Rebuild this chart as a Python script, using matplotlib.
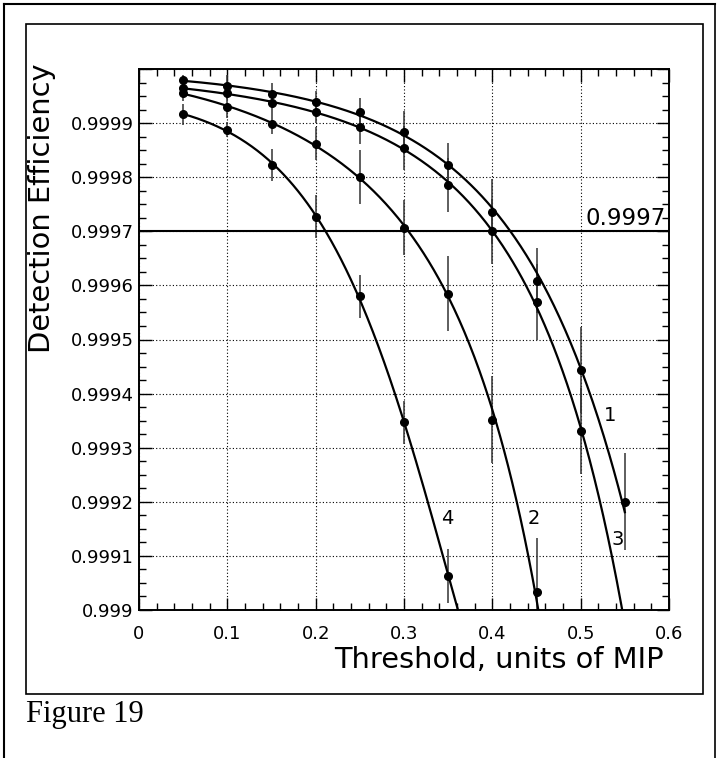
import numpy as np
import matplotlib
matplotlib.use("Agg")
import matplotlib.pyplot as plt
from matplotlib.ticker import FixedLocator, FuncFormatter
from matplotlib.patches import Rectangle
from matplotlib.lines import Line2D

# ---------------- data ----------------
x_thr = [0.05, 0.10, 0.15, 0.20, 0.25, 0.30, 0.35, 0.40, 0.45, 0.50, 0.55]

eff1 = [0.999979, 0.999969, 0.999954, 0.999939, 0.999920, 0.999883,
        0.999823, 0.999736, 0.999609, 0.999444, 0.999200]
err1 = [0.00001, 0.00002, 0.00002, 0.00002, 0.000027, 0.00004,
        0.00004, 0.00006, 0.00006, 0.00008, 0.00009]

eff3 = [0.999964, 0.999955, 0.999938, 0.999920, 0.999892, 0.999854,
        0.999785, 0.999700, 0.999570, 0.999331]
err3 = [0.00001, 0.00001, 0.00002, 0.00002, 0.00003, 0.00004,
        0.00005, 0.00006, 0.00007, 0.00008]

eff2 = [0.999955, 0.999930, 0.999899, 0.999862, 0.999800, 0.999707,
        0.999585, 0.999352, 0.999033]
err2 = [0.000015, 0.00002, 0.00002, 0.00003, 0.00005, 0.00005,
        0.00007, 0.00008, 0.0001]

eff4 = [0.999916, 0.999888, 0.999823, 0.999727, 0.999580, 0.999347, 0.999063]
err4 = [0.00002, 0.000014, 0.00003, 0.00004, 0.00004, 0.00004, 0.00005]

curve_names = ["1", "3", "2", "4"]
curve_label_pos = {"1": (0.533, 0.99936), "3": (0.542, 0.99913),
                   "2": (0.447, 0.99917), "4": (0.349, 0.99917)}
ref_level = 0.9997
ref_text = "0.9997"

x_ticks = [0.0, 0.1, 0.2, 0.3, 0.4, 0.5, 0.6]
y_ticks = [0.999, 0.9991, 0.9992, 0.9993, 0.9994, 0.9995, 0.9996,
           0.9997, 0.9998, 0.9999, 1.0]

xlabel = "Threshold, units of MIP"
ylabel = "Detection Efficiency"
caption = "Figure 19"

# ---------------- figure ----------------
W, H = 718, 758
fig = plt.figure(figsize=(W / 100, H / 100), dpi=100)
fig.patch.set_facecolor("white")

# outer and inner frames
fig.add_artist(Line2D([4 / W, 4 / W], [0, 1 - 4 / H], transform=fig.transFigure,
                      color="black", lw=1.5))
fig.add_artist(Line2D([4 / W, 715 / W], [1 - 4 / H, 1 - 4 / H],
                      transform=fig.transFigure, color="black", lw=1.5))
fig.add_artist(Line2D([715 / W, 715 / W], [0, 1 - 4 / H], transform=fig.transFigure,
                      color="black", lw=1.2))
fig.add_artist(Rectangle((26 / W, 1 - 694 / H), (703 - 26) / W, (694 - 24) / H,
                         transform=fig.transFigure, fill=False,
                         edgecolor="black", lw=1.2))

ax = fig.add_axes([139 / W, 1 - 610 / H, 530 / W, 541 / H])
ax.set_xlim(0.0, 0.6)
ax.set_ylim(0.999, 1.0)


def fit_curve(x, y, xmax):
    x = np.asarray(x)
    y = np.asarray(y)
    c = np.polyfit(x, np.log(1.0 - y), 3)
    xs = np.linspace(x[0], xmax, 400)
    return xs, 1.0 - np.exp(np.polyval(c, xs))


series = [
    (eff1, err1, 0.0),
    (eff3, err3, 0.06),
    (eff2, err2, 0.06),
    (eff4, err4, 0.06),
]
for eff, err, ext in series:
    xs_pts = x_thr[:len(eff)]
    xs, ys = fit_curve(xs_pts, eff, xs_pts[-1] + ext)
    ax.plot(xs, ys, color="black", lw=1.6, zorder=3)
    ax.errorbar(xs_pts, eff, yerr=err, fmt="none", ecolor="#333333",
                elinewidth=1.1, capsize=0, zorder=2)
    ax.plot(xs_pts, eff, "o", color="black", ms=5.5, zorder=4)

for name in curve_names:
    px, py = curve_label_pos[name]
    ax.text(px, py, name, fontsize=14, ha="center", va="center", zorder=5)

ax.axhline(ref_level, color="black", lw=1.5, zorder=3)
ax.text(0.506, ref_level + 0.000012, ref_text, fontsize=16.5,
        ha="left", va="baseline", zorder=5)

# ticks
ax.xaxis.set_major_locator(FixedLocator(x_ticks))
ax.xaxis.set_minor_locator(FixedLocator(list(np.round(np.arange(0, 0.6001, 0.02), 3))))
ax.yaxis.set_major_locator(FixedLocator(y_ticks))
ax.yaxis.set_minor_locator(FixedLocator(list(np.round(0.999 + 0.000025 * np.arange(41), 6))))


def xfmt(v, p):
    return f"{v:.1f}".rstrip("0").rstrip(".")


def yfmt(v, p):
    if v >= 0.99999:
        return ""
    return f"{v:.4f}".rstrip("0").rstrip(".")


ax.xaxis.set_major_formatter(FuncFormatter(xfmt))
ax.yaxis.set_major_formatter(FuncFormatter(yfmt))

ax.tick_params(which="both", direction="in", top=True, right=True, width=1)
ax.tick_params(which="major", length=9)
ax.tick_params(which="minor", length=5)
ax.tick_params(axis="x", which="major", labelsize=13, pad=10.5)
ax.tick_params(axis="y", which="major", labelsize=13, pad=4)

ax.grid(True, which="major", linestyle=(0, (1, 2)), color="black", lw=0.8)
for s in ax.spines.values():
    s.set_linewidth(1.4)

fig.text(664 / W, 1 - 668 / H, xlabel, fontsize=20.8, ha="right", va="baseline")
fig.text(42 / W, 1 - 63 / H, ylabel, fontsize=20.8, rotation=90,
         ha="center", va="top")
fig.text(26 / W, 1 - 722 / H, caption, fontsize=22, family="Liberation Serif",
         ha="left", va="baseline")

fig.savefig("out.png", dpi=100)
